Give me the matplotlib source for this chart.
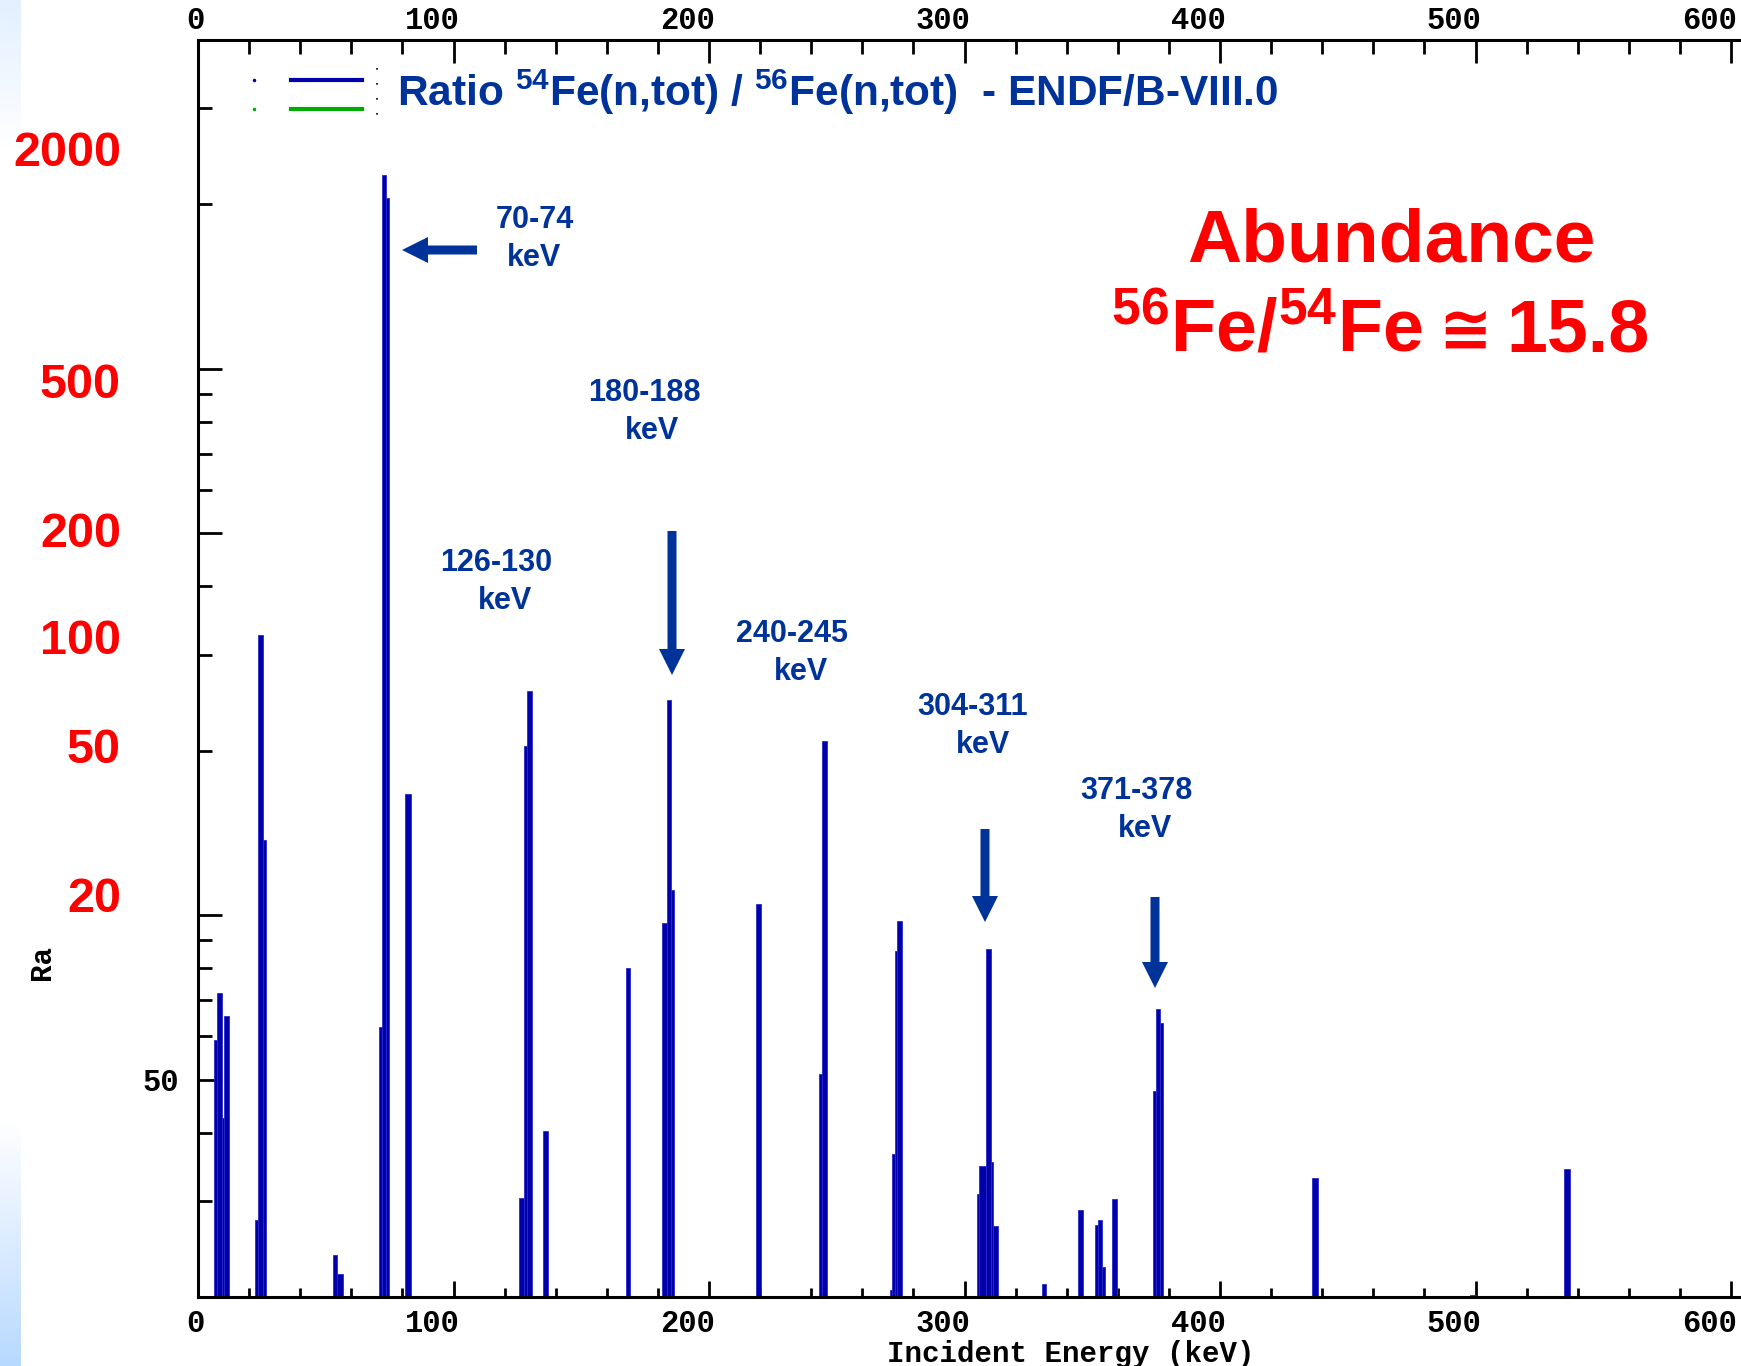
import numpy as np
import matplotlib
matplotlib.use('Agg')
import matplotlib.pyplot as plt
from matplotlib import font_manager, transforms
from matplotlib.patches import FancyArrow
from matplotlib.lines import Line2D
from matplotlib.ticker import FixedLocator, FixedFormatter, NullFormatter, MultipleLocator

# ---------------- data ----------------
e_lo = [6.3, 7.3, 9.3, 10.3, 22.3, 23.6, 25.4, 52.7, 54.5, 70.8, 71.9, 73.7, 81.0,
        125.6, 127.6, 128.6, 135.2, 167.4, 181.6, 183.4, 185.3,
        218.5, 243.2, 244.4, 270.7, 271.8, 272.8, 273.6,
        304.8, 305.8, 308.5, 310.4, 311.3, 330.2,
        344.5, 351.1, 352.1, 353.9, 357.7, 373.9, 375.0, 376.6,
        436.1, 497.8, 534.8]
e_hi = [7.3, 9.3, 10.3, 12.3, 23.6, 25.4, 26.5, 54.5, 56.9, 71.9, 73.7, 74.8, 83.2,
        127.6, 128.6, 130.6, 137.1, 169.2, 183.4, 185.3, 186.3,
        220.5, 244.4, 246.2, 271.8, 272.8, 273.6, 275.4,
        305.8, 308.5, 310.4, 311.3, 313.2, 332.0,
        346.5, 352.1, 353.9, 355.0, 359.8, 375.0, 376.6, 377.8,
        438.4, 500.0, 536.9]
ratio = [59.2, 72.0, 42.6, 65.4, 27.7, 326, 137, 23.9, 22.0, 62.4, 2268, 2052, 167,
         30.4, 204, 257, 40.3, 80, 96.7, 248, 111,
         105, 51.1, 208, 20.6, 36.6, 86, 97.7,
         30.9, 34.8, 86.7, 35.4, 27.0, 21.1,
         28.8, 27.1, 27.7, 22.7, 30.2, 47.6, 67.2, 63.5,
         33.0, 20.2, 34.3]

x_ticks = [0, 100, 200, 300, 400, 500, 600]
x_tick_labels = ['0', '100', '200', '300', '400', '500', '600']
y_major = [50, 100, 500, 1000]
y_major_labels = ['50', '', '', '']
y_minor = [30, 40, 60, 70, 80, 90, 200, 300, 400, 600, 700, 800, 900, 2000, 3000]
red_labels = ['2000', '500', '200', '100', '50', '20']
peak_labels = ['70-74', '126-130', '180-188', '240-245', '304-311', '371-378']
legend_text = r'Ratio $\mathregular{^{54}}$Fe(n,tot) / $\mathregular{^{56}}$Fe(n,tot)  - ENDF/B-VIII.0'
abund_line1 = 'Abundance'
abund_pieces = [r'$\mathregular{^{56}}$Fe/$\mathregular{^{54}}$Fe', '≅', '15.8']
x_label = 'Incident Energy (keV)'

# ---------------- fonts ----------------
names = {f.name for f in font_manager.fontManager.ttflist}
narrow = 'Liberation Sans Narrow' if 'Liberation Sans Narrow' in names else 'Liberation Sans'
legend_size = 32 if narrow == 'Liberation Sans Narrow' else 30.5
mono = 'Liberation Mono'
sans = 'Liberation Sans'

W, H = 1741, 1366
fig = plt.figure(figsize=(W / 100, H / 100), dpi=100)
fig.patch.set_facecolor('white')

def fx(px):
    return px / W

def fy(py):
    return 1 - py / H

# left gradient strip
bg = fig.add_axes([0, 0, 21 / W, 1], zorder=-5)
bg.axis('off')
yy = np.arange(H)
alpha = np.zeros(H)
top = yy < 150
alpha[top] = 0.30 * (1 - yy[top] / 150)
bot = yy > 1120
alpha[bot] = 0.75 * ((yy[bot] - 1120) / (H - 1120))
img = np.zeros((H, 1, 4))
img[..., 0] = 0.62
img[..., 1] = 0.80
img[..., 2] = 1.0
img[..., 3] = alpha[:, None]
bg.imshow(img, aspect='auto', extent=[0, 1, 0, 1], interpolation='bilinear')
bg.set_xlim(0, 1)
bg.set_ylim(0, 1)

# main axes
x0, x600 = 198, 1731
ax = fig.add_axes([fx(x0), fy(1297), (W - x0) / W, (1297 - 40) / H])
ax.set_facecolor('none')
kev_per_px = 600 / (x600 - x0)
ax.set_xlim(0, (W - x0) * kev_per_px)
ax.set_yscale('log')
ax.set_ylim(20, 4000)

lo = np.array(e_lo)
hi = np.array(e_hi)
r = np.array(ratio)
ax.bar(lo, r - 1, bottom=1, width=hi - lo, align='edge', color='#0000aa',
       edgecolor='#2a2ac8', linewidth=0.6, zorder=2)

for s in ['left', 'bottom', 'top']:
    ax.spines[s].set_linewidth(2.2)
    ax.spines[s].set_color('black')
ax.spines['right'].set_visible(False)

ax.xaxis.set_major_locator(FixedLocator(x_ticks))
ax.xaxis.set_major_formatter(FixedFormatter(x_tick_labels))
ax.xaxis.set_minor_locator(MultipleLocator(20))
ax.tick_params(axis='x', which='major', direction='in', length=11.5, width=2,
               bottom=True, top=False, pad=9, labelsize=22)
ax.tick_params(axis='x', which='minor', direction='in', length=6.5, width=2,
               bottom=True, top=False)

ax.yaxis.set_major_locator(FixedLocator(y_major))
ax.yaxis.set_major_formatter(FixedFormatter(y_major_labels))
ax.yaxis.set_minor_locator(FixedLocator(y_minor))
ax.yaxis.set_minor_formatter(NullFormatter())
ax.tick_params(axis='y', which='major', direction='in', length=17.3, width=2,
               left=True, right=False, pad=14, labelsize=22)
ax.tick_params(axis='y', which='minor', direction='in', length=10, width=2,
               left=True, right=False)

# top axis
ax2 = ax.twiny()
ax2.set_xlim(ax.get_xlim())
for s in ax2.spines.values():
    s.set_visible(False)
ax2.xaxis.set_major_locator(FixedLocator(x_ticks))
ax2.xaxis.set_major_formatter(FixedFormatter(x_tick_labels))
ax2.xaxis.set_minor_locator(MultipleLocator(20))
ax2.tick_params(axis='x', which='major', direction='in', length=16.5, width=2,
                top=True, bottom=False, pad=3, labelsize=22)
ax2.tick_params(axis='x', which='minor', direction='in', length=10, width=2,
                top=True, bottom=False)

off = transforms.ScaledTranslation(0.06, 0, fig.dpi_scale_trans)
for lab in ax.get_xticklabels() + ax2.get_xticklabels():
    lab.set_fontfamily(mono)
    lab.set_fontweight('bold')
    lab.set_ha('right')
    lab.set_transform(lab.get_transform() + off)
for lab in ax.get_yticklabels():
    lab.set_fontfamily(mono)
    lab.set_fontweight('bold')

# x label and truncated y label
fig.text(fx(1071), fy(1340), x_label, ha='center', va='top', fontsize=21,
         fontweight='bold', family=mono, color='black')
fig.text(fx(42), fy(962), 'Ra', ha='center', va='center', rotation=90, fontsize=21,
         fontweight='bold', family=mono, color='black')

# red overlay labels
red_y = [154, 385, 535, 642, 751, 899]
for t, py in zip(red_labels, red_y):
    fig.text(fx(121), fy(py), t, ha='right', va='center', fontsize=35,
             fontweight='bold', family=sans, color='#ff0000')

# legend-like header
blue_c = '#0000aa'
green_c = '#00aa00'
fig.add_artist(Line2D([fx(291), fx(362)], [fy(80), fy(80)], color=blue_c, lw=3))
fig.add_artist(Line2D([fx(291), fx(362)], [fy(109), fy(109)], color=green_c, lw=3))
fig.add_artist(Line2D([fx(254)], [fy(80)], marker='o', ms=1.5, color=blue_c, lw=0))
fig.add_artist(Line2D([fx(254)], [fy(109)], marker='o', ms=1.5, color=green_c, lw=0))
fig.add_artist(Line2D([fx(377), fx(377)], [fy(68), fy(118)], color='black', lw=1.2,
                      linestyle=(0, (1, 8))))
fig.text(fx(397), fy(92), legend_text, ha='left', va='center', fontsize=legend_size,
         fontweight='bold', family=narrow, color='#003399')

# peak annotations
ann_c = '#003399'
ann_pos = [(535, 220), (496, 563), (644, 393), (792, 634), (973, 707), (1136, 791)]
kev_dx = [-1, 9, 8, 9, 10, 9]
for t, (px, py), dx in zip(peak_labels, ann_pos, kev_dx):
    fig.text(fx(px), fy(py), t, ha='center', va='center', fontsize=22,
             fontweight='bold', family=sans, color=ann_c)
    fig.text(fx(px + dx), fy(py + 38), 'keV', ha='center', va='center', fontsize=22,
             fontweight='bold', family=sans, color=ann_c)

def arrow(xs, ys, xe, ye):
    a = FancyArrow(xs / 100, (H - ys) / 100, (xe - xs) / 100, -(ye - ys) / 100,
                   width=0.09, head_width=0.26, head_length=0.26,
                   length_includes_head=True, color=ann_c, lw=0,
                   transform=fig.dpi_scale_trans)
    fig.add_artist(a)

arrow(477, 250, 402, 250)
arrow(672, 531, 672, 675)
arrow(985, 829, 985, 922)
arrow(1155, 897, 1155, 988)

# abundance text
fig.text(fx(1391), fy(262), abund_line1, ha='center', va='baseline', fontsize=54,
         fontweight='bold', family=sans, color='#ff0000')

renderer = fig.canvas.get_renderer()
piece_fonts = [(sans, 53), ('DejaVu Sans', 46), (sans, 53)]
gaps = [16, 14]
objs = []
for t, (fam, sz) in zip(abund_pieces, piece_fonts):
    objs.append(fig.text(0, fy(351), t, ha='left', va='baseline', fontsize=sz,
                         fontweight='bold', family=fam, color='#ff0000'))
widths = [o.get_window_extent(renderer).width for o in objs]
total = sum(widths) + sum(gaps)
xstart = 1380 - total / 2
cur = xstart
for i, o in enumerate(objs):
    o.set_x(fx(cur))
    cur += widths[i]
    if i < len(gaps):
        cur += gaps[i]

fig.savefig('out.png', dpi=100, facecolor='white')
